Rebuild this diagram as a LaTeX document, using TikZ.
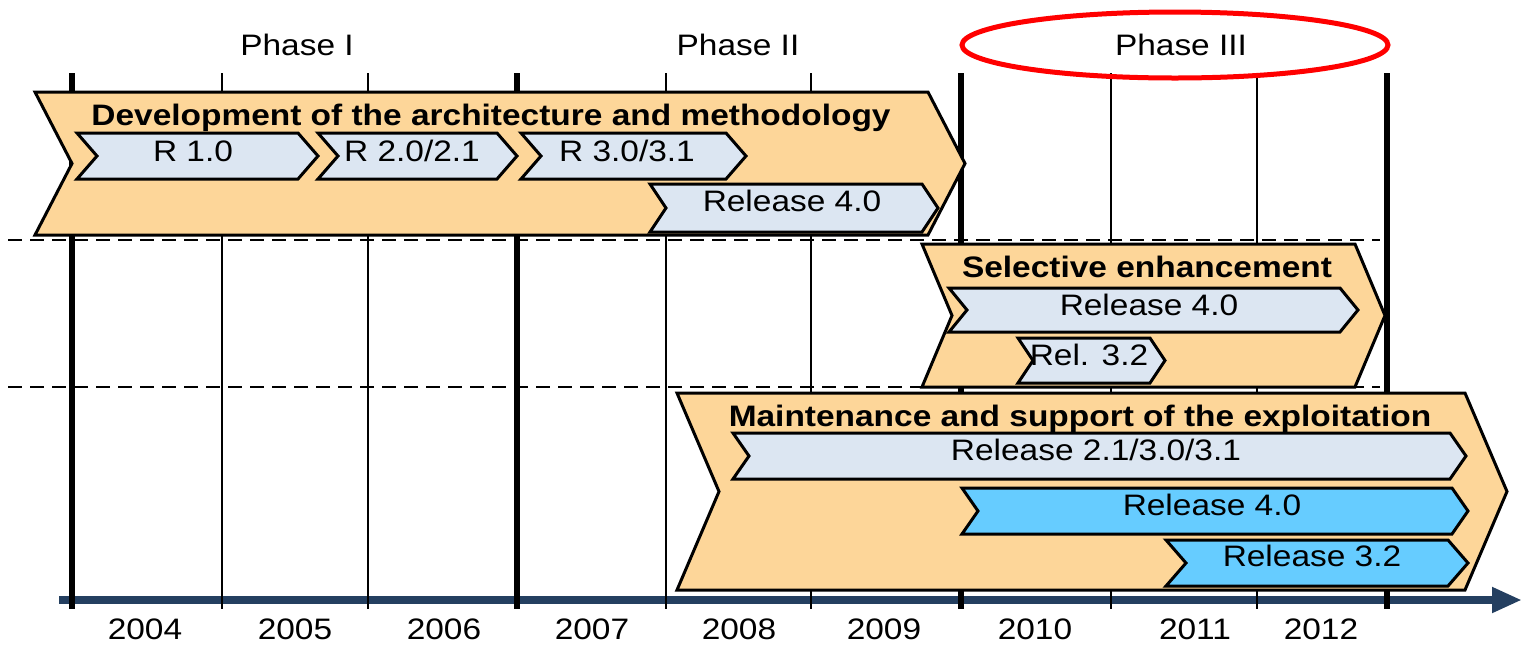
\documentclass[tikz,border=0pt]{standalone}
\usepackage{fontspec}
\setmainfont{Liberation Sans}[FakeStretch=1.13]
\usetikzlibrary{arrows.meta}
\definecolor{phaseorange}{HTML}{FDD699}
\definecolor{relgrey}{HTML}{DCE6F2}
\definecolor{relblue}{HTML}{66CCFF}
\definecolor{axisblue}{HTML}{243F60}
\newcommand{\chevron}[6]{%
  \draw[#1] (#2,#3) -- (#4,#3) -- ({#4+#6},{(#3+#5)/2}) -- (#4,#5) -- (#2,#5) -- ({#2+#6},{(#3+#5)/2}) -- cycle;}
\begin{document}
\begin{tikzpicture}[x=0.5pt,y=-0.5pt,
	lbl/.style={anchor=base,inner sep=0pt,font=\fontsize{14.8}{16}\selectfont},
	ttl/.style={lbl,font=\fontsize{14.8}{16}\selectfont\bfseries},
	big/.style={draw=black,line width=1.5pt,fill=phaseorange},
	rel/.style={draw=black,line width=1.5pt,fill=relgrey},
	relb/.style={rel,fill=relblue}]
	\useasboundingbox (0,0) rectangle (1523,644);
	\coordinate (axstart) at (59,600);
	\coordinate (axend) at (1522,600);
	\draw[axisblue,line width=4pt,-{Triangle[length=15pt,width=12pt]}] (axstart) -- (axend);
	\foreach \x in {222,368,666,811,1111,1257}
		\draw[line width=1pt] (\x,73) -- (\x,609);
	\foreach \x in {72,517,961,1387}
		\draw[line width=3pt] (\x,73) -- (\x,609);
	\draw[dashed,line width=1pt,dash pattern=on 7pt off 4pt] (8,240) -- (1380,240);
	\draw[dashed,line width=1pt,dash pattern=on 7pt off 4pt] (8,387) -- (1380,387);
	\draw[red,line width=2.5pt] (1175,45) ellipse [x radius=213,y radius=33];
	\node[lbl] (ph1) at (297,55) {Phase I};
	\node[lbl] (ph2) at (738,55) {Phase II};
	\node[lbl] (ph3) at (1181,55) {Phase III};
	\chevron{big}{35}{92}{928}{235}{37}
	\node[ttl] (dev) at (491,125) {Development of the architecture and methodology};
	\chevron{rel}{77}{133}{298}{179}{20}
	\node[lbl] (r10) at (193,161) {R 1.0};
	\chevron{rel}{318}{133}{497}{179}{20}
	\node[lbl] (r20) at (412,161) {R 2.0/2.1};
	\chevron{rel}{521}{133}{726}{179}{20}
	\node[lbl] (r30) at (627,161) {R 3.0/3.1};
	\chevron{rel}{650}{184}{922}{232}{16}
	\node[lbl] (r40a) at (792,211) {Release 4.0};
	\chevron{big}{922}{244}{1355}{387}{30}
	\node[ttl] (sel) at (1147,277) {Selective enhancement};
	\chevron{rel}{949}{288}{1340}{332}{18}
	\node[lbl] (r40b) at (1149,315) {Release 4.0};
	\chevron{rel}{1018}{338}{1150}{383}{15}
	\node[lbl] (r32a) at (1089,365) {Rel. 3.2};
	\chevron{big}{677}{393}{1465}{590}{42}
	\node[ttl] (mnt) at (1080,426) {Maintenance and support of the exploitation};
	\chevron{rel}{733}{433}{1450}{479}{16}
	\node[lbl] (r21) at (1096,460) {Release 2.1/3.0/3.1};
	\chevron{relb}{962}{488}{1452}{534}{16}
	\node[lbl] (r40c) at (1212,515) {Release 4.0};
	\chevron{relb}{1166}{540}{1448}{586}{20}
	\node[lbl] (r32b) at (1312,566) {Release 3.2};
	\foreach \yr/\x in {2004/145,2005/295,2006/444,2007/592,2008/739,2009/884,2010/1035,2011/1195,2012/1321}
		\node[lbl] (y\yr) at (\x,639) {\yr};
\end{tikzpicture}
\end{document}
